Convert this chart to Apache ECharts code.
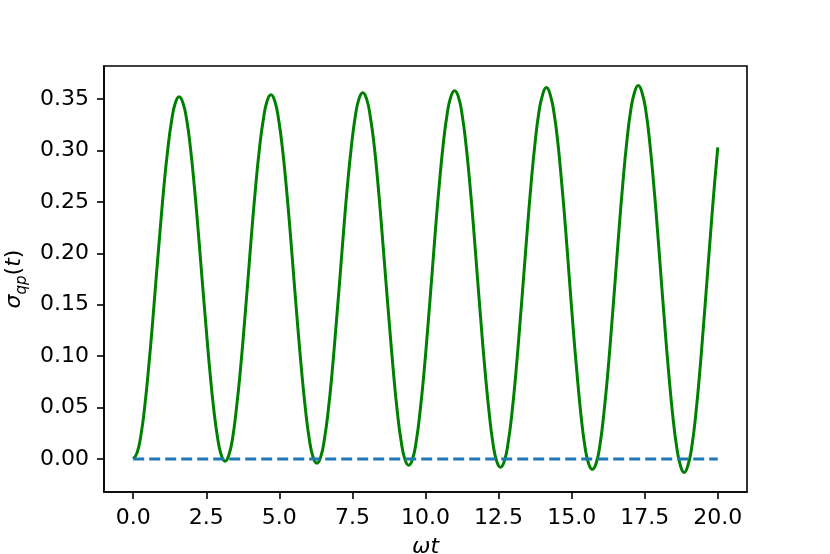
<!DOCTYPE html>
<html>
<head>
<meta charset="utf-8">
<script src="https://cdn.jsdelivr.net/npm/echarts@6/dist/echarts.min.js"></script>
<style>
    html, body { margin: 0; padding: 0; background: #fff; }
    #chart { width: 830px; height: 554px; }
</style>
</head>
<body>
<div id="chart"></div>
<script>
// values (omega*t, sigma_qp)
const omegaT = [
    0, 0.131, 0.262, 0.393, 0.524, 0.654, 0.785, 0.916, 1.047, 1.178, 1.309, 1.440,
    1.571, 1.702, 1.833, 1.963, 2.094, 2.225, 2.356, 2.487, 2.618, 2.749, 2.880, 3.011,
    3.142, 3.272, 3.403, 3.534, 3.665, 3.796, 3.927, 4.058, 4.189, 4.320, 4.451, 4.581,
    4.712, 4.843, 4.974, 5.105, 5.236, 5.367, 5.498, 5.629, 5.760, 5.890, 6.021, 6.152,
    6.283, 6.414, 6.545, 6.676, 6.807, 6.938, 7.069, 7.199, 7.330, 7.461, 7.592, 7.723,
    7.854, 7.985, 8.116, 8.247, 8.378, 8.508, 8.639, 8.770, 8.901, 9.032, 9.163, 9.294,
    9.425, 9.556, 9.687, 9.817, 9.948, 10.079, 10.210, 10.341, 10.472, 10.603, 10.734, 10.865,
    10.996, 11.126, 11.257, 11.388, 11.519, 11.650, 11.781, 11.912, 12.043, 12.174, 12.305, 12.435,
    12.566, 12.697, 12.828, 12.959, 13.090, 13.221, 13.352, 13.483, 13.614, 13.744, 13.875, 14.006,
    14.137, 14.268, 14.399, 14.530, 14.661, 14.792, 14.923, 15.053, 15.184, 15.315, 15.446, 15.577,
    15.708, 15.839, 15.970, 16.101, 16.232, 16.362, 16.493, 16.624, 16.755, 16.886, 17.017, 17.148,
    17.279, 17.410, 17.541, 17.671, 17.802, 17.933, 18.064, 18.195, 18.326, 18.457, 18.588, 18.719,
    18.850, 18.980, 19.111, 19.242, 19.373, 19.504, 19.635, 19.766, 19.897, 20.0
]
const sigmaQP = [
    0, 0.006, 0.023, 0.051, 0.088, 0.130, 0.176, 0.221, 0.264, 0.300, 0.328, 0.346,
    0.352, 0.346, 0.329, 0.301, 0.264, 0.221, 0.175, 0.130, 0.087, 0.050, 0.022, 0.004,
    -0.002, 0.004, 0.021, 0.050, 0.086, 0.129, 0.175, 0.222, 0.265, 0.302, 0.330, 0.348,
    0.354, 0.348, 0.330, 0.302, 0.265, 0.222, 0.175, 0.129, 0.086, 0.049, 0.020, 0.002,
    -0.004, 0.002, 0.020, 0.048, 0.085, 0.129, 0.175, 0.222, 0.266, 0.303, 0.332, 0.350,
    0.356, 0.350, 0.332, 0.304, 0.266, 0.222, 0.175, 0.129, 0.085, 0.047, 0.018, 0.000,
    -0.006, 0.000, 0.018, 0.047, 0.084, 0.128, 0.175, 0.223, 0.267, 0.305, 0.334, 0.352,
    0.358, 0.352, 0.334, 0.305, 0.267, 0.223, 0.175, 0.128, 0.084, 0.046, 0.016, -0.002,
    -0.008, -0.002, 0.016, 0.045, 0.083, 0.128, 0.175, 0.223, 0.268, 0.306, 0.336, 0.354,
    0.361, 0.354, 0.336, 0.307, 0.268, 0.224, 0.175, 0.127, 0.083, 0.044, 0.014, -0.004,
    -0.010, -0.004, 0.014, 0.044, 0.082, 0.127, 0.175, 0.224, 0.269, 0.308, 0.338, 0.356,
    0.363, 0.356, 0.338, 0.308, 0.269, 0.224, 0.175, 0.127, 0.082, 0.043, 0.013, -0.006,
    -0.013, -0.006, 0.012, 0.042, 0.081, 0.127, 0.175, 0.224, 0.270, 0.303
]
const baseT = [0, 20]
const baseValues = [0, 0]
const xTicks = [0, 2.5, 5, 7.5, 10, 12.5, 15, 17.5, 20]
const yTicks = [0, 0.05, 0.1, 0.15, 0.2, 0.25, 0.3, 0.35]

let myChart = echarts.init(document.getElementById('chart'))

const font = 'DejaVu Sans'
let option = {
    animation: false,
    backgroundColor: '#fff',
    grid: {
        left: 104,
        right: 83,
        top: 66,
        bottom: 62,
        outerBoundsMode: 'none',
        containLabel: false,
        show: true,
        borderColor: '#000',
        borderWidth: 1.6
    },
    xAxis: {
        type: 'value',
        min: -1,
        max: 21,
        name: 'ωt',
        nameLocation: 'middle',
        nameGap: 44,
        nameTextStyle: {
            fontFamily: font,
            fontStyle: 'italic',
            fontSize: 22,
            color: '#000'
        },
        axisLine: { onZero: false, lineStyle: { color: '#000', width: 1.6 } },
        axisTick: {
            customValues: xTicks,
            length: 7,
            lineStyle: { color: '#000', width: 1.6 }
        },
        axisLabel: {
            customValues: xTicks,
            margin: 15,
            fontFamily: font,
            fontSize: 22,
            color: '#000',
            formatter: v => v.toFixed(1)
        },
        splitLine: { show: false }
    },
    yAxis: {
        type: 'value',
        min: -0.032,
        max: 0.382,
        name: '{i|σ}{sub|qp}{n|(}{i|t}{n|)}',
        nameLocation: 'middle',
        nameGap: 64,
        nameRotate: 90,
        nameTextStyle: {
            color: '#000',
            rich: {
                i: { fontFamily: font, fontStyle: 'italic', fontSize: 22, lineHeight: 30, color: '#000' },
                n: { fontFamily: font, fontSize: 22, lineHeight: 30, color: '#000' },
                sub: { fontFamily: font, fontStyle: 'italic', fontSize: 15, lineHeight: 15, verticalAlign: 'bottom', color: '#000' }
            }
        },
        axisLine: { onZero: false, lineStyle: { color: '#000', width: 1.6 } },
        axisTick: {
            customValues: yTicks,
            length: 7,
            lineStyle: { color: '#000', width: 1.6 }
        },
        axisLabel: {
            customValues: yTicks,
            margin: 15,
            fontFamily: font,
            fontSize: 22,
            color: '#000',
            formatter: v => v.toFixed(2)
        },
        splitLine: { show: false }
    },
    series: [
        {
            name: 'sigma',
            type: 'line',
            data: omegaT.map((t, i) => [t, sigmaQP[i]]),
            smooth: true,
            symbol: 'none',
            lineStyle: { color: '#008000', width: 3 },
            z: 2
        },
        {
            name: 'zero',
            type: 'line',
            data: baseT.map((t, i) => [t, baseValues[i]]),
            symbol: 'none',
            lineStyle: { color: '#1f77b4', width: 3, type: [11, 5] },
            z: 3
        }
    ]
}
myChart.setOption(option)
</script>
</body>
</html>
